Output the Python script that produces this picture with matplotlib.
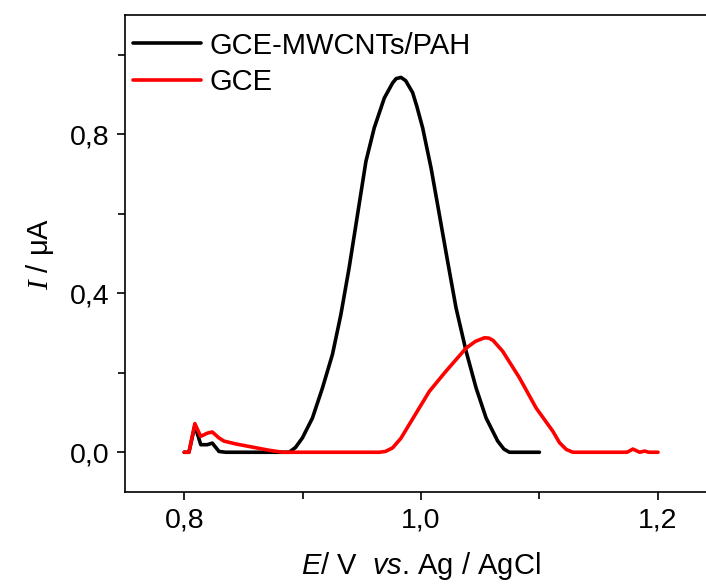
import numpy as np
import matplotlib
matplotlib.use("Agg")
import matplotlib.pyplot as plt
from matplotlib.ticker import FixedFormatter, FixedLocator

plt.rcParams["font.family"] = ["Liberation Sans", "DejaVu Sans"]
plt.rcParams["mathtext.fontset"] = "custom"
plt.rcParams["mathtext.it"] = "Liberation Sans:italic"
plt.rcParams["mathtext.rm"] = "Liberation Sans"
plt.rcParams["mathtext.cal"] = "Liberation Serif:italic"

# GCE-MWCNTs/PAH (potential in V, current in uA)
e_mwcnt = [0.800, 0.804, 0.809, 0.814, 0.8195, 0.8237, 0.8294, 0.835, 0.860,
           0.8886, 0.894, 0.8998, 0.9083, 0.9168, 0.9252, 0.9323, 0.9393, 0.9464,
           0.9535, 0.9605, 0.9690, 0.9760, 0.979, 0.9831, 0.987, 0.9929, 0.9965,
           1.0014, 1.0085, 1.0155, 1.0225, 1.0296, 1.0381, 1.0465, 1.0550,
           1.0648, 1.070, 1.0747, 1.0850, 1.1000]
i_mwcnt = [0.0, 0.0, 0.067, 0.019, 0.019, 0.023, 0.002, 0.0, 0.0,
           0.0, 0.012, 0.036, 0.086, 0.162, 0.246, 0.346, 0.464, 0.598,
           0.732, 0.816, 0.891, 0.929, 0.940, 0.943, 0.935, 0.905, 0.870,
           0.816, 0.715, 0.598, 0.480, 0.363, 0.254, 0.162, 0.086,
           0.028, 0.008, 0.0, 0.0, 0.0]

# bare GCE
e_gce = [0.800, 0.804, 0.809, 0.8139, 0.8195, 0.8237, 0.8294, 0.8336, 0.8435,
         0.8575, 0.8717, 0.883, 0.920, 0.9647, 0.970, 0.976, 0.983, 0.9901,
         1.0070, 1.0211, 1.0381, 1.046, 1.0536, 1.0575, 1.0610, 1.0690, 1.0832,
         1.0973, 1.1113, 1.117, 1.1227, 1.1283, 1.150, 1.1740, 1.1790, 1.1847,
         1.1889, 1.1923, 1.2002]
i_gce = [0.0, 0.0, 0.072, 0.040, 0.048, 0.051, 0.036, 0.028, 0.021,
         0.013, 0.005, 0.0, 0.0, 0.0, 0.002, 0.011, 0.035, 0.070,
         0.153, 0.204, 0.262, 0.279, 0.288, 0.287, 0.281, 0.254, 0.187,
         0.111, 0.053, 0.024, 0.007, 0.0, 0.0, 0.0, 0.008, 0.0,
         0.003, 0.0, 0.0]

fig = plt.figure(figsize=(7.06, 5.85), dpi=100)
ax = fig.add_axes([125 / 706, 93 / 585, 592 / 706, 477 / 585])

line_kw = dict(lw=2.6, solid_joinstyle="round", solid_capstyle="round")
ax.plot(e_mwcnt, i_mwcnt, color="black", label="GCE-MWCNTs/PAH", **line_kw)
ax.plot(e_gce, i_gce, color="red", label="GCE", **line_kw)

ax.set_xlim(0.75, 1.25)
ax.set_ylim(-0.1, 1.1)

ax.xaxis.set_major_locator(FixedLocator([0.8, 1.0, 1.2]))
ax.xaxis.set_major_formatter(FixedFormatter(["0,8", "1,0", "1,2"]))
ax.xaxis.set_minor_locator(FixedLocator([0.9, 1.1]))
ax.yaxis.set_major_locator(FixedLocator([0.0, 0.4, 0.8]))
ax.yaxis.set_major_formatter(FixedFormatter(["0,0", "0,4", "0,8"]))
ax.yaxis.set_minor_locator(FixedLocator([0.2, 0.6, 1.0]))

ax.tick_params(which="major", direction="out", length=6, width=1.2, labelsize=20.5, pad=5)
ax.tick_params(which="minor", direction="out", length=5, width=1.2)
for s in ax.spines.values():
    s.set_linewidth(1.2)

ax.set_xlabel(r"$E$/ V  $vs$. Ag / AgCl", fontsize=21, labelpad=12)
ax.set_ylabel(r"$\mathcal{I}$ / μA", fontsize=21, labelpad=10)

ax.legend(loc="upper left", bbox_to_anchor=(0.0135, 0.965), frameon=False,
          fontsize=21, handlelength=2.33, handletextpad=0.31,
          labelspacing=0.28, borderaxespad=0.0, borderpad=0.0)

fig.savefig("out.png", dpi=100)
